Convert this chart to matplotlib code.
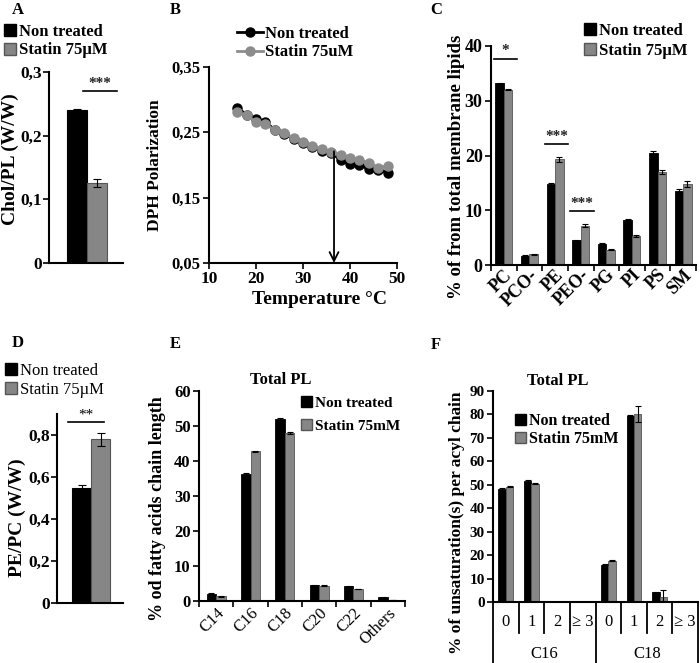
import matplotlib
matplotlib.use("Agg")
import matplotlib.pyplot as plt
import matplotlib.ticker as mticker
from matplotlib.patches import Patch
from matplotlib.lines import Line2D
import matplotlib.transforms as mtrans

plt.rcParams["font.family"] = ["Liberation Serif", "DejaVu Serif"]
plt.rcParams["font.weight"] = "bold"
plt.rcParams["axes.labelweight"] = "bold"
plt.rcParams["axes.titleweight"] = "bold"
plt.rcParams["axes.linewidth"] = 1.5

# ── Data ──────────────────────────────────────────────────────────────────────
# A: Chol/PL ratio
a_vals = [0.240, 0.126]
a_errs = [0.002, 0.006]

# B: DPH polarization vs temperature
b_temp = [16, 18, 20, 22, 24, 26, 28, 30, 32, 34, 36, 38, 40, 42, 44, 46, 48]
b_ctrl = [0.288, 0.277, 0.271, 0.266, 0.254, 0.248, 0.240, 0.233, 0.228,
          0.222, 0.219, 0.207, 0.202, 0.200, 0.194, 0.193, 0.188]
b_stat = [0.281, 0.276, 0.266, 0.262, 0.254, 0.249, 0.241, 0.235, 0.229,
          0.224, 0.220, 0.216, 0.211, 0.208, 0.203, 0.196, 0.199]
b_arrow_t = 36.6

# C: lipid classes
c_cats = ["PC", "PCO-", "PE", "PEO-", "PG", "PI", "PS", "SM"]
c_ctrl = [33.2, 1.7, 14.8, 4.5, 3.9, 8.3, 20.5, 13.6]
c_stat = [32.0, 2.0, 19.3, 7.2, 2.8, 5.3, 17.0, 14.8]
c_ctrl_err = [0.1, 0.1, 0.1, 0.1, 0.1, 0.1, 0.4, 0.2]
c_stat_err = [0.1, 0.1, 0.5, 0.2, 0.1, 0.1, 0.3, 0.5]
c_sig = [(0, 37.7, "*"), (2, 22.1, "***"), (3, 9.8, "***")]

# D: PE/PC ratio
d_vals = [0.55, 0.78]
d_errs = [0.01, 0.03]

# E: fatty acid chain length
e_cats = ["C14", "C16", "C18", "C20", "C22", "Others"]
e_ctrl = [2.1, 36.4, 52.0, 4.5, 4.2, 1.1]
e_stat = [1.3, 42.8, 48.0, 4.4, 3.4, 0.3]
e_ctrl_err = [0.1, 0.3, 0.4, 0.1, 0.1, 0.1]
e_stat_err = [0.1, 0.2, 0.2, 0.1, 0.1, 0.05]

# F: unsaturations per acyl chain
f_sub = ["0", "1", "2", "≥ 3", "0", "1", "2", "≥ 3"]
f_groups = ["C16", "C18"]
f_ctrl = [48.2, 51.4, 0.0, 0.0, 15.9, 79.5, 4.1, 0.0]
f_stat = [49.1, 50.5, 0.0, 0.0, 17.6, 80.2, 2.1, 0.0]
f_ctrl_err = [0.6, 0.7, 0, 0, 0.2, 0.3, 0.3, 0]
f_stat_err = [0.2, 0.2, 0, 0, 0.3, 3.3, 2.9, 0]

BLACK = "#000000"
GREY = "#868686"
GREY_EDGE = "#555555"
LINE_GREY = "#8c8c8c"

W, H = 700, 663
fig = plt.figure(figsize=(7, 6.63), dpi=100)


def add_ax(x0, x1, y0, y1):
    # pixel box -> figure fraction
    return fig.add_axes([x0 / W, 1 - y1 / H, (x1 - x0) / W, (y1 - y0) / H])


def style(ax, ysize):
    ax.spines["top"].set_visible(False)
    ax.spines["right"].set_visible(False)
    ax.tick_params(axis="y", direction="out", length=4, width=1.2, labelsize=ysize, pad=2)


def comma(nd):
    return mticker.FuncFormatter(
        lambda v, _: "0" if abs(v) < 1e-9 else f"{v:.{nd}f}".replace(".", ","))


def px_text(x, y, s, **kw):
    fig.text(x / W, 1 - y / H, s, **kw)


def ylab(x, y, s, size):
    px_text(x, y, s, rotation=90, ha="center", va="center", fontsize=size,
            fontweight="bold")


def sq_legend(labels, x, y, size, weight="bold", spacing=0.15):
    handles = [Patch(facecolor=BLACK, edgecolor=BLACK),
               Patch(facecolor=GREY, edgecolor=GREY_EDGE)]
    fig.legend(handles=handles, labels=labels, loc="upper left",
               bbox_to_anchor=(x / W, 1 - y / H), frameon=False,
               prop=dict(size=size, weight=weight),
               handlelength=0.7, handleheight=0.7, handletextpad=0.2,
               labelspacing=spacing, borderpad=0, borderaxespad=0)


# ── Panel letters ─────────────────────────────────────────────────────────────
for lab, x, y in [("A", 12, 10), ("B", 170, 10), ("C", 430, 10),
                  ("D", 12, 343), ("E", 170, 344), ("F", 431, 345)]:
    px_text(x, y, lab, fontsize=12, fontweight="bold", va="center")

# ── A ─────────────────────────────────────────────────────────────────────────
ax = add_ax(49, 123, 72, 263)
style(ax, 12.5)
ax.tick_params(axis="y", pad=1)
ax.bar([0, 1], a_vals, width=1, color=[BLACK, GREY], edgecolor=[BLACK, GREY_EDGE],
       linewidth=0.8, yerr=a_errs, capsize=3, error_kw=dict(lw=0.8, capthick=0.8))
ax.set_xlim(-1.4, 2.3)
ax.set_ylim(0, 0.3)
ax.set_yticks([0, 0.1, 0.2, 0.3])
ax.yaxis.set_major_formatter(comma(1))
ax.set_xticks([])
ylab(10, 159, "Chol/PL (W/W)", 14)
ax.plot([0.3, 2.0], [0.27, 0.27], color=BLACK, lw=1.2)
ax.text(1.15, 0.272, "***", ha="center", va="bottom", fontsize=11, color="#222222")
sq_legend(["Non treated", "Statin 75µM"], 4, 24, 12)

# ── B ─────────────────────────────────────────────────────────────────────────
ax = add_ax(209, 397, 67, 263)
style(ax, 12)
ax.plot(b_temp, b_ctrl, color=BLACK, lw=2, marker="o", ms=6.5, label="Non treated")
ax.plot(b_temp, b_stat, color=LINE_GREY, lw=2, marker="o", ms=6.5, label="Statin 75uM")
ax.annotate("", xy=(b_arrow_t, 0.05), xytext=(b_arrow_t, 0.221),
            arrowprops=dict(arrowstyle="->", color=BLACK, lw=1.3, mutation_scale=16,
                            shrinkA=0, shrinkB=0))
ax.set_xlim(10, 50)
ax.set_ylim(0.05, 0.35)
ax.set_yticks([0.05, 0.15, 0.25, 0.35])
ax.yaxis.set_major_formatter(comma(2))
ax.set_xticks([10, 20, 30, 40, 50])
ax.tick_params(axis="x", direction="out", length=4, width=1.2, labelsize=12.5, pad=2)
px_text(319, 300, "Temperature °C", ha="center", va="center", fontsize=14,
        fontweight="bold")
ylab(155, 165, "DPH Polarization", 12.5)
fig.legend(handles=[Line2D([], [], color=BLACK, lw=2, marker="o", ms=6.5),
                    Line2D([], [], color=LINE_GREY, lw=2, marker="o", ms=6.5)],
           labels=["Non treated", "Statin 75uM"], loc="upper left",
           bbox_to_anchor=(237 / W, 1 - 26 / H), frameon=False, fontsize=12,
           handlelength=1.55, handletextpad=0.15, labelspacing=0.15,
           borderpad=0, borderaxespad=0)


def grouped(ax, n, ctrl, stat, cerr, serr, width):
    xs = list(range(n))
    ax.bar([x - width / 2 for x in xs], ctrl, width=width, color=BLACK, edgecolor=BLACK,
           linewidth=0.6, yerr=cerr, capsize=2, error_kw=dict(lw=0.8, capthick=0.8))
    ax.bar([x + width / 2 for x in xs], stat, width=width, color=GREY, edgecolor=GREY_EDGE,
           linewidth=0.6, yerr=serr, capsize=2, error_kw=dict(lw=0.8, capthick=0.8))
    ax.set_xlim(-0.5, n - 0.5)
    ax.set_xticks(xs)
    ax.set_xticks([x - 0.5 for x in range(n + 1)], minor=True)
    ax.tick_params(axis="x", which="major", length=0, pad=3)
    ax.tick_params(axis="x", which="minor", direction="out", length=4, width=1.2)


# ── C ─────────────────────────────────────────────────────────────────────────
ax = add_ax(491, 696, 46, 265)
style(ax, 13)
grouped(ax, len(c_cats), c_ctrl, c_stat, c_ctrl_err, c_stat_err, 0.33)
ax.set_ylim(0, 40)
ax.set_yticks([0, 10, 20, 30, 40])
ax.set_xticklabels(c_cats, rotation=45, ha="right", rotation_mode="anchor", fontsize=13)
ax.tick_params(axis="x", which="major", pad=1)
ylab(457, 167, "% of from total membrane lipids", 13.5)
for i, h, s in c_sig:
    ax.plot([i - 0.4, i + 0.5], [h, h], color=BLACK, lw=1.2, clip_on=False)
    ax.text(i + 0.05, h + 0.2, s, ha="center", va="bottom", fontsize=11, color="#222222")
sq_legend(["Non treated", "Statin 75µM"], 584, 23, 12, spacing=0.25)

# ── D ─────────────────────────────────────────────────────────────────────────
ax = add_ax(57, 123, 414, 603)
style(ax, 12.5)
ax.tick_params(axis="y", pad=1)
ax.bar([0, 1], d_vals, width=1, color=[BLACK, GREY], edgecolor=[BLACK, GREY_EDGE],
       linewidth=0.8, yerr=d_errs, capsize=3, error_kw=dict(lw=0.8, capthick=0.8))
ax.set_xlim(-1.29, 2.18)
ax.set_ylim(0, 0.9)
ax.set_yticks([0, 0.2, 0.4, 0.6, 0.8])
ax.yaxis.set_major_formatter(comma(1))
ax.set_xticks([])
ylab(17, 518, "PE/PC (W/W)", 14)
ax.plot([-0.71, 1.18], [0.86, 0.86], color=BLACK, lw=1.2, clip_on=False)
ax.text(0.24, 0.862, "**", ha="center", va="bottom", fontsize=11, fontweight="normal")
sq_legend(["Non treated", "Statin 75µM"], 5, 363, 12, weight="normal")

# ── E ─────────────────────────────────────────────────────────────────────────
ax = add_ax(199, 405, 391, 601)
style(ax, 12)
grouped(ax, len(e_cats), e_ctrl, e_stat, e_ctrl_err, e_stat_err, 0.28)
ax.set_ylim(0, 60)
ax.set_yticks([0, 10, 20, 30, 40, 50, 60])
ax.set_xticklabels(e_cats, rotation=45, ha="right", rotation_mode="anchor",
                   fontsize=12, fontweight="normal")
ylab(157, 509, "% od fatty acids chain length", 13)
px_text(281, 380, "Total PL", ha="center", va="center", fontsize=12, fontweight="bold")
sq_legend(["Non treated", "Statin 75mM"], 301, 396, 11, spacing=0.6)

# ── F ─────────────────────────────────────────────────────────────────────────
ax = add_ax(493, 698, 391, 602)
style(ax, 11)
n = len(f_sub)
grouped(ax, n, f_ctrl, f_stat, f_ctrl_err, f_stat_err, 0.29)
ax.set_xticks([])
ax.set_xticks([], minor=True)
ax.set_ylim(0, 90)
ax.set_yticks(list(range(0, 91, 10)))
ylab(457, 523, "% of unsaturation(s) per acyl chain", 12.5)
px_text(558, 381, "Total PL", ha="center", va="center", fontsize=12, fontweight="bold")
tr = mtrans.blended_transform_factory(ax.transData, ax.transAxes)
per_group = n // len(f_groups)
for k in range(n + 1):
    bottom = -0.29 if k % per_group == 0 else -0.145
    ax.plot([k - 0.5, k - 0.5], [0, bottom], transform=tr, color=BLACK, lw=1.3,
            clip_on=False)
for k, s in enumerate(f_sub):
    ax.text(k, -0.095, s, transform=tr, ha="center", va="center", fontsize=12,
            fontweight="normal")
for g, s in enumerate(f_groups):
    ax.text(g * per_group + (per_group - 1) / 2, -0.245, s, transform=tr,
            ha="center", va="center", fontsize=12, fontweight="normal")
sq_legend(["Non treated", "Statin 75mM"], 515, 413, 11.5)

fig.savefig("out.png", dpi=100)
